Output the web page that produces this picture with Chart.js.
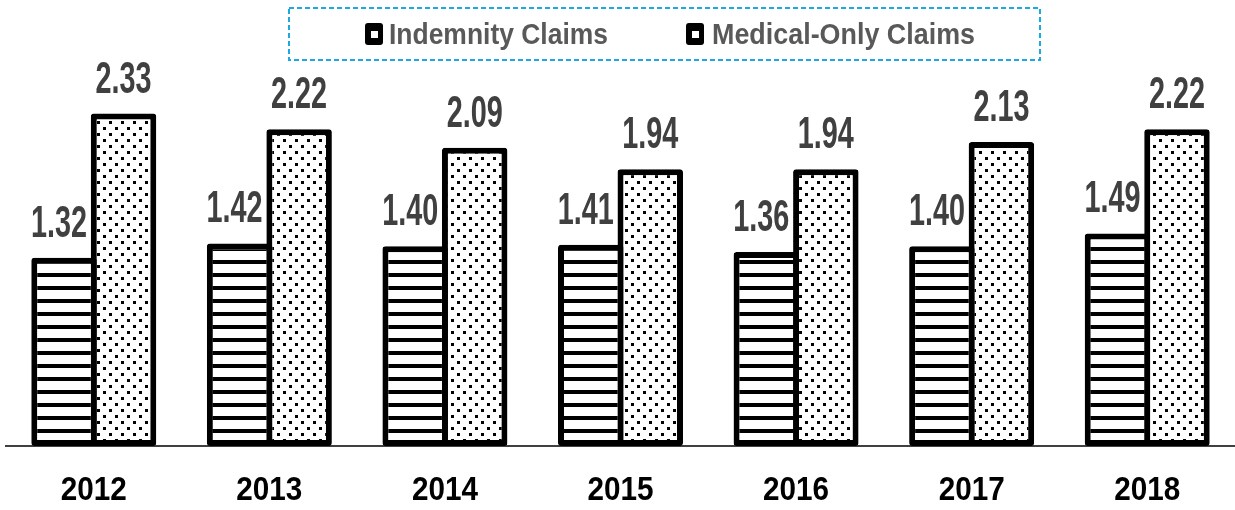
<!DOCTYPE html>
<html lang="en">
<head>
    <meta charset="UTF-8">
    <title>Claims</title>
    <script src="https://cdn.jsdelivr.net/npm/chart.js"></script>
    <style>
        body { margin: 0; background: #ffffff; }
        .contenedor { width: 1235px; height: 510px; position: relative; }
    </style>
</head>
<body>
    <div class="contenedor">
        <canvas id="grafica"></canvas>
    </div>
    <script>
        // datos
        const years = ['2012', '2013', '2014', '2015', '2016', '2017', '2018'];
        const indemnity = [1.32, 1.42, 1.40, 1.41, 1.36, 1.40, 1.49];
        const medicalOnly = [2.33, 2.22, 2.09, 1.94, 1.94, 2.13, 2.22];
        const seriesNames = ['Indemnity Claims', 'Medical-Only Claims'];

        function patronRayas(ctx) {
            const c = document.createElement('canvas');
            c.width = 8; c.height = 13;
            const g = c.getContext('2d');
            g.fillStyle = '#ffffff';
            g.fillRect(0, 0, 8, 13);
            g.fillStyle = '#000000';
            g.fillRect(0, 0, 8, 4);
            return ctx.createPattern(c, 'repeat');
        }

        function patronPuntos(ctx) {
            const c = document.createElement('canvas');
            c.width = 12; c.height = 12;
            const g = c.getContext('2d');
            g.fillStyle = '#ffffff';
            g.fillRect(0, 0, 12, 12);
            g.fillStyle = '#000000';
            g.fillRect(1, 1, 3, 3);
            g.fillRect(7, 7, 3, 3);
            return ctx.createPattern(c, 'repeat');
        }

        // texto estrecho (fuente condensada simulada)
        function textoEstrecho(ctx, txt, x, y, font, color, ancho) {
            ctx.save();
            ctx.font = font;
            ctx.fillStyle = color;
            ctx.textBaseline = 'alphabetic';
            const w = ctx.measureText(txt).width;
            ctx.translate(x, y);
            ctx.scale(ancho / w, 1);
            ctx.textAlign = 'center';
            ctx.fillText(txt, 0, 0);
            ctx.restore();
        }

        const etiquetas = {
            id: 'etiquetas',
            afterDatasetsDraw(chart) {
                const ctx = chart.ctx;
                chart.data.datasets.forEach((ds, i) => {
                    const meta = chart.getDatasetMeta(i);
                    meta.data.forEach((bar, j) => {
                        const txt = ds.data[j].toFixed(2);
                        const dx = i === 0 ? -5 : 0;
                        textoEstrecho(ctx, txt, bar.x + dx, bar.y - 21, 'bold 45px "Liberation Sans"', '#404040', 56);
                    });
                });
                // etiquetas del eje x
                const xs = chart.scales.x;
                years.forEach((y, k) => {
                    textoEstrecho(ctx, y, xs.getPixelForTick(k), 500, 'bold 34px "Liberation Sans"', '#000000', 66);
                });
            },
            afterDraw(chart) {
                const ctx = chart.ctx;
                ctx.save();
                ctx.strokeStyle = '#1ea8e0';
                ctx.lineWidth = 2;
                ctx.setLineDash([5, 3]);
                ctx.strokeRect(289, 8, 751, 52);
                ctx.setLineDash([]);
                // marcadores de la leyenda
                const marcas = [[365, 389, 219], [686, 712, 263]];
                marcas.forEach((m, i) => {
                    ctx.fillStyle = '#000000';
                    ctx.beginPath();
                    ctx.roundRect(m[0], 23, 18, 22, 3);
                    ctx.fill();
                    ctx.fillStyle = '#ffffff';
                    ctx.fillRect(m[0] + 6, 31, 7, 7);
                    textoEstrecho(ctx, seriesNames[i], m[1] + m[2] / 2, 44, 'bold 29px "Liberation Sans"', '#595959', m[2]);
                });
                ctx.restore();
            }
        };

        document.addEventListener('DOMContentLoaded', function () {
            const ctx = document.getElementById('grafica').getContext('2d');
            new Chart(ctx, {
                type: 'bar',
                data: {
                    labels: years,
                    datasets: [{
                        label: seriesNames[0],
                        data: indemnity,
                        backgroundColor: patronRayas(ctx),
                        borderColor: '#000000',
                        borderWidth: 6,
                        borderRadius: 3,
                        borderSkipped: false
                    }, {
                        label: seriesNames[1],
                        data: medicalOnly,
                        backgroundColor: patronPuntos(ctx),
                        borderColor: '#000000',
                        borderWidth: 6,
                        borderRadius: 3,
                        borderSkipped: false
                    }]
                },
                options: {
                    responsive: true,
                    maintainAspectRatio: false,
                    animation: false,
                    categoryPercentage: 0.678,
                    barPercentage: 1.1,
                    layout: { padding: { top: 18, bottom: 64, left: 6, right: 0 } },
                    plugins: {
                        legend: { display: false },
                        tooltip: { enabled: false }
                    },
                    scales: {
                        x: {
                            grid: { display: false, drawTicks: false },
                            ticks: { display: false },
                            border: { display: true, color: '#404040', width: 2 }
                        },
                        y: {
                            display: false,
                            min: 0,
                            max: 3
                        }
                    }
                },
                plugins: [etiquetas]
            });
        });
    </script>
</body>
</html>
